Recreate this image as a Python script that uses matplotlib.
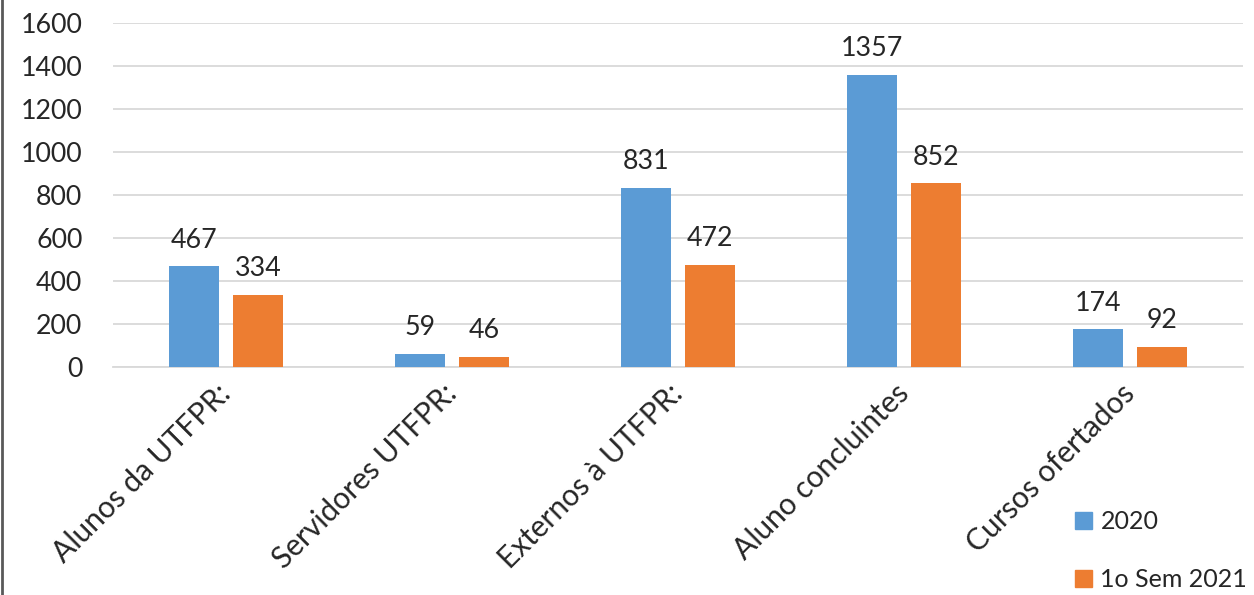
import matplotlib
matplotlib.use("Agg")
import matplotlib.pyplot as plt
import numpy as np
from matplotlib.patches import Patch
from matplotlib.lines import Line2D

categories = ["Alunos da UTFPR:", "Servidores UTFPR:", "Externos à UTFPR:", "Aluno concluintes", "Cursos ofertados"]
series_names = ["2020", "1o Sem 2021"]
values_2020 = [467, 59, 831, 1357, 174]
values_2021 = [334, 46, 472, 852, 92]
yticks = [0, 200, 400, 600, 800, 1000, 1200, 1400, 1600]

colors = ["#5B9BD5", "#ED7D31"]
plt.rcParams['font.family'] = ['Lato', 'DejaVu Sans']
FS = 19.3
FS_CAT = 21.5
FS_LEG = 18

fig = plt.figure(figsize=(12.54, 5.95), dpi=100)
ax = fig.add_axes([0.0901, 0.3837, 0.9011, 0.5783])

x = np.arange(len(categories))
w = 0.222
off = 0.143
b1 = ax.bar(x - off, values_2020, w, color=colors[0], zorder=3)
b2 = ax.bar(x + off, values_2021, w, color=colors[1], zorder=3)

for bars, vals in ((b1, values_2020), (b2, values_2021)):
    for rect, v in zip(bars, vals):
        ax.annotate(str(v), (rect.get_x() + rect.get_width() / 2, v),
                    xytext=(0, 13.5), textcoords="offset points",
                    ha="center", va="baseline", fontsize=FS, color="#262626")

ax.set_xlim(-0.5, len(categories) - 0.5)
ax.set_ylim(0, 1600)
ax.set_yticks(yticks)
ax.set_yticklabels([str(t) for t in yticks], fontsize=FS, color="#262626")
ax.yaxis.grid(True, color="#D9D9D9", linewidth=1.3, zorder=0)
ax.set_axisbelow(True)
for s in ["top", "right", "left"]:
    ax.spines[s].set_visible(False)
ax.spines["bottom"].set_color("#D9D9D9")
ax.spines["bottom"].set_linewidth(1.3)
ax.tick_params(axis="y", length=0, pad=22)
ax.tick_params(axis="x", length=0, pad=16)
ax.set_xticks(x)
ax.set_xticklabels(categories, rotation=45, ha="right", va="center",
                   rotation_mode="anchor", fontsize=FS_CAT, color="#262626")

handles = [Patch(facecolor=c, edgecolor=c) for c in colors]
leg = fig.legend(handles, series_names, loc="upper left",
                 bbox_to_anchor=(0.857, 0.143), frameon=False, fontsize=FS_LEG,
                 handlelength=0.68, handleheight=0.68, handletextpad=0.35,
                 labelspacing=1.4, borderaxespad=0, borderpad=0)
for t in leg.get_texts():
    t.set_color("#262626")

fig.add_artist(Line2D([0.0012, 0.0012], [0, 1], transform=fig.transFigure,
                      color="#595959", linewidth=2))

fig.savefig("out.png", dpi=100, facecolor="white")
